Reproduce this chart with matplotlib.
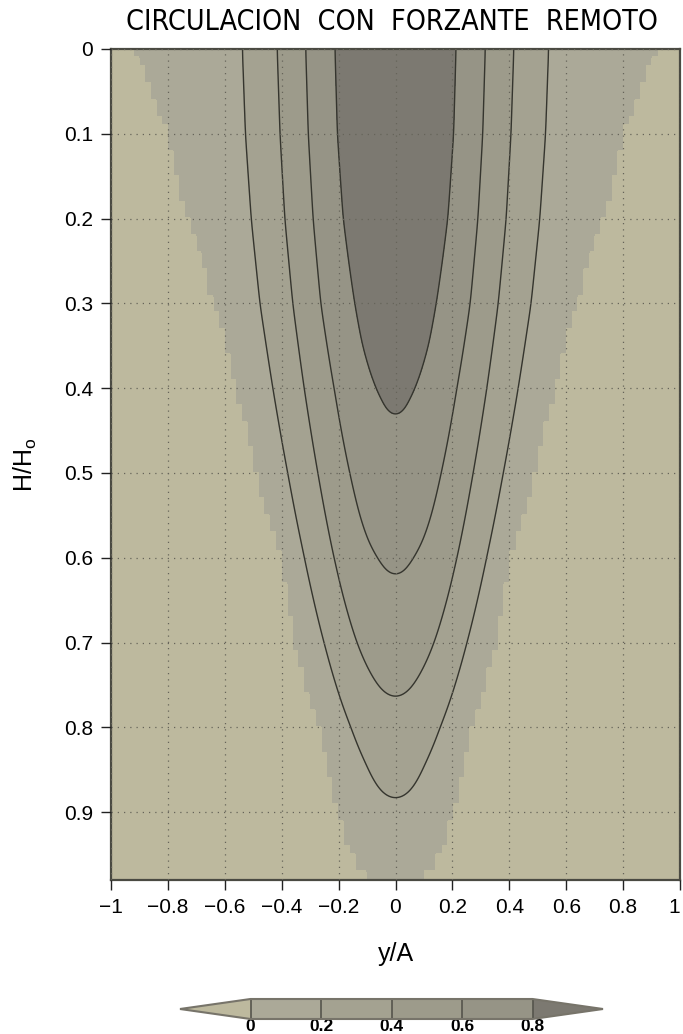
import numpy as np
import matplotlib
matplotlib.use("Agg")
import matplotlib.pyplot as plt
from matplotlib.colors import ListedColormap, BoundaryNorm

# ---------------- data ----------------
levels = [0.0, 0.2, 0.4, 0.6, 0.8]
cbar_ticks = [0, 0.2, 0.4, 0.6, 0.8]
cbar_ticklabels = ["0", "0.2", "0.4", "0.6", "0.8"]
x_ticks = [-1, -0.8, -0.6, -0.4, -0.2, 0, 0.2, 0.4, 0.6, 0.8, 1]
y_ticks = [0, 0.1, 0.2, 0.3, 0.4, 0.5, 0.6, 0.7, 0.8, 0.9]

# half-width (|y/A|) of each iso-line versus depth H/Ho
edge_depth = [0.0, 0.03, 0.07, 0.10, 0.15, 0.20, 0.26, 0.30, 0.34, 0.40, 0.50,
              0.60, 0.70, 0.80, 0.87, 0.90, 0.94, 0.963, 0.978, 1.0]
edge_hw = [0.93, 0.88, 0.845, 0.80, 0.77, 0.73, 0.67, 0.64, 0.60, 0.56, 0.49,
           0.405, 0.355, 0.268, 0.225, 0.198, 0.168, 0.135, 0.10, 0.0]

l02_depth = [0.0, 0.1, 0.2, 0.3, 0.4, 0.5, 0.6, 0.7, 0.8, 0.84, 0.883]
l02_hw = [0.535, 0.525, 0.505, 0.475, 0.43, 0.378, 0.32, 0.25, 0.155, 0.105, 0.0]

l04_depth = [0.0, 0.1, 0.2, 0.3, 0.4, 0.5, 0.6, 0.7, 0.74, 0.764]
l04_hw = [0.415, 0.405, 0.388, 0.36, 0.32, 0.272, 0.215, 0.135, 0.08, 0.0]

l06_depth = [0.0, 0.1, 0.2, 0.3, 0.4, 0.5, 0.55, 0.58, 0.605, 0.62]
l06_hw = [0.315, 0.306, 0.289, 0.262, 0.215, 0.16, 0.125, 0.095, 0.05, 0.0]

l08_depth = [0.0, 0.1, 0.2, 0.3, 0.35, 0.4, 0.42, 0.435]
l08_hw = [0.213, 0.205, 0.185, 0.145, 0.118, 0.072, 0.042, 0.0]

# value on the axis y=0 versus depth (where each iso-line closes)
center_depth = [0.0, 0.435, 0.62, 0.764, 0.883, 1.0]
center_value = [0.95, 0.8, 0.6, 0.4, 0.2, 0.0]

# ---------------- build the field ----------------
def hw_at(H, dep, hw):
    w2 = np.interp(H, dep, np.asarray(hw) ** 2, right=0.0)
    return np.sqrt(np.clip(w2, 0, None))

xg = np.linspace(-1, 1, 801)
Hg = np.linspace(0, 0.98, 491)
Z = np.empty((Hg.size, xg.size))
line_sets = [(l08_depth, l08_hw, 0.8), (l06_depth, l06_hw, 0.6),
             (l04_depth, l04_hw, 0.4), (l02_depth, l02_hw, 0.2)]
for i, H in enumerate(Hg):
    ws = [0.0]
    vs = [float(np.interp(H, center_depth, center_value))]
    for dep, hw, lv in line_sets:
        w = hw_at(H, dep, hw)
        if w > ws[-1] + 1e-6 and lv < vs[0]:
            ws.append(w)
            vs.append(lv)
    we = hw_at(H, edge_depth, edge_hw)
    if we > ws[-1] + 1e-6:
        ws.append(we)
        vs.append(0.0)
    # interpolate in y^2 so the closing iso-lines get rounded tips
    Z[i] = np.interp(xg ** 2, np.asarray(ws) ** 2, vs, right=0.0)

def smooth(A, sig, axis):
    n = int(3 * sig)
    k = np.exp(-0.5 * (np.arange(-n, n + 1) / sig) ** 2)
    k /= k.sum()
    pad = [(0, 0), (0, 0)]
    pad[axis] = (n, n)
    Ap = np.pad(A, pad, mode="edge")
    return np.apply_along_axis(lambda v: np.convolve(v, k, mode="valid"), axis, Ap)

Z = smooth(smooth(Z, 5, 0), 2, 1)

# pixelated domain mask (coarse model grid)
dx, dH = 0.02, 0.01
xc = (np.floor(np.abs(xg) / dx) + 0.5) * dx
Hc = (np.floor(Hg / dH) + 0.5) * dH
wc = hw_at(Hc, edge_depth, edge_hw)
inside = xc[None, :] < wc[:, None]
Z = np.where(inside, np.maximum(Z, 0.02), -0.5)

# ---------------- figure ----------------
W, Hpx = 683, 1034
fig = plt.figure(figsize=(W / 100, Hpx / 100), dpi=100)
fig.patch.set_facecolor("white")

tick_font = ["Liberation Sans", "DejaVu Sans"]

ax = fig.add_axes([111 / W, 1 - 880 / Hpx, (680 - 111) / W, (880 - 49) / Hpx])

band_colors = ["#aba998", "#a4a291", "#9d9b8b", "#969486"]
cmap = ListedColormap(band_colors)
cmap.set_under("#bdb99e")
cmap.set_over("#7c7971")
norm = BoundaryNorm(levels, cmap.N)

cf = ax.contourf(xg, Hg, Z, levels=levels, cmap=cmap, norm=norm, extend="both")
ax.contour(xg, Hg, Z, levels=levels[1:], colors="#35352e", linewidths=1.0)

ax.set_xlim(-1, 1)
ax.set_ylim(0.98, 0)
ax.set_xticks(x_ticks)
ax.set_yticks(y_ticks)
xl = ax.set_xticklabels([("\u2212" if v < 0 else "") + (f"{abs(v):g}") for v in x_ticks],
                        family=tick_font, fontsize=15)
xl[-1].set_horizontalalignment("right")
ax.set_yticklabels([f"{v:g}" for v in y_ticks], family=tick_font, fontsize=15)
ax.tick_params(direction="out", length=7, width=1.0, color="#222222", pad=6)
ax.grid(True, color="#66645a", linestyle=(0, (1, 4)), linewidth=0.9)
ax.set_axisbelow(False)
for s in ax.spines.values():
    s.set_color("#4a4a42")
    s.set_linewidth(1.6)

ax.set_xlabel("y/A", family=tick_font, fontsize=18, labelpad=18)
ax.set_ylabel("H/H$_\\mathregular{o}$", family=tick_font, fontsize=18, labelpad=18)

fig.text(392 / W, 1 - 22 / Hpx, "CIRCULACION  CON  FORZANTE  REMOTO",
         ha="center", va="center", family="DejaVu Sans", stretch="condensed",
         fontsize=20.5)

# colorbar (axes includes the extension triangles)
cax = fig.add_axes([180 / W, 1 - 1019 / Hpx, (603 - 180) / W, 20 / Hpx])
cb = fig.colorbar(cf, cax=cax, orientation="horizontal", extendfrac=0.25,
                  drawedges=True, ticks=cbar_ticks)
cb.ax.set_xticklabels(cbar_ticklabels, fontsize=12.5, fontweight="bold", family=tick_font)
cb.ax.tick_params(length=0, pad=0)
cb.outline.set_edgecolor("#77746a")
cb.outline.set_linewidth(1.5)
cb.dividers.set_color("#55544c")
cb.dividers.set_linewidth(1.2)

fig.savefig("out.png", dpi=100)
